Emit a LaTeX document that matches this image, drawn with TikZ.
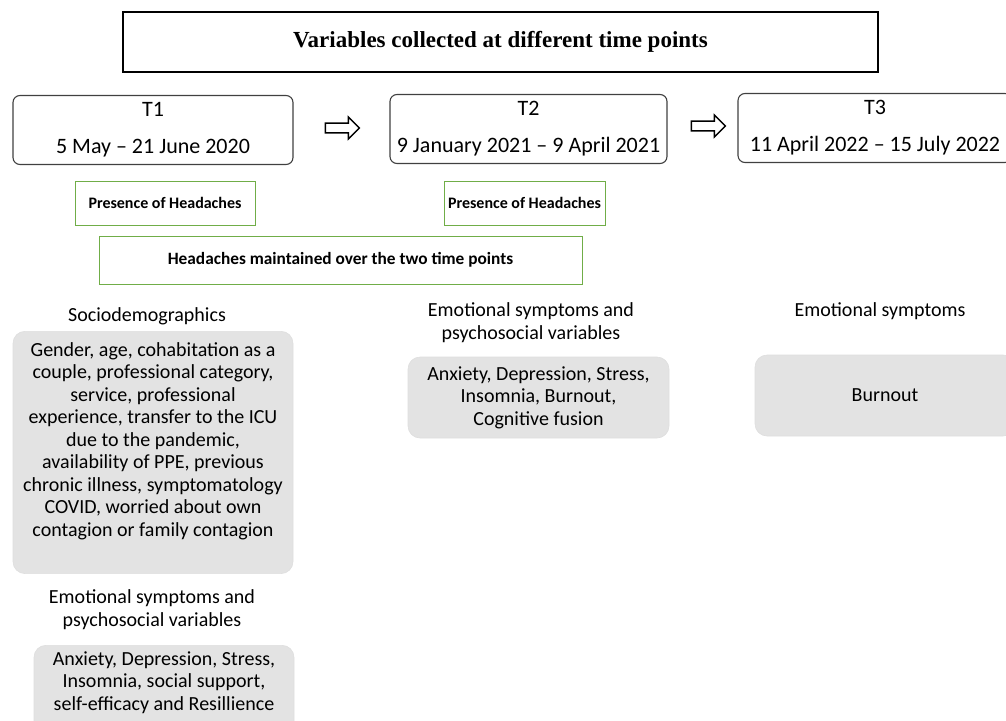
\documentclass[tikz,border=0pt]{standalone}
\usepackage{fontspec}
\setmainfont{Carlito}
\newfontfamily\titlefont{Liberation Serif}
\usepackage{tikz}
\usetikzlibrary{shapes.arrows,positioning}
\definecolor{hgreen}{RGB}{112,173,71}
\definecolor{tgray}{RGB}{64,64,64}
\tikzset{
  titlebox/.style={draw=black, line width=2pt, minimum width=755pt, minimum height=60pt,
    font=\titlefont\bfseries\fontsize{23}{26}\selectfont},
  timebox/.style={draw=tgray, line width=1.1pt, rounded corners=7pt, align=center,
    minimum height=69pt, font=\fontsize{22}{37}\selectfont},
  headbox/.style={draw=hgreen, line width=0.9pt, minimum height=44pt,
    font=\bfseries\fontsize{16}{18}\selectfont},
  heading/.style={align=center, font=\fontsize{20}{23}\selectfont},
  varbox/.style={fill=black!11, draw=black!13, line width=0.6pt, rounded corners=12pt,
    align=center, font=\fontsize{20}{22.5}\selectfont},
  nextarrow/.style={single arrow, draw=black, line width=1.4pt, fill=white, inner sep=4pt,
    minimum height=34pt, minimum width=22pt, single arrow head extend=6pt}
}
\begin{document}
\begin{tikzpicture}[x=1pt,y=-1pt]
    \useasboundingbox (0,0) rectangle (1006,720);
    \clip (0,0) rectangle (1006,720);

    \node[titlebox] (title) at (500.5,42) {Variables collected at different time points};

    % the three time points
    \node[timebox, minimum width=280pt] (t1) at (153,130) {T1\\5 May -- 21 June 2020};
    \node[timebox, minimum width=277pt] (t2) at (528.5,129) {T2\\9 January 2021 -- 9 April 2021};
    \node[timebox, minimum width=274pt] (t3) at (875,128) {T3\\11 April 2022 -- 15 July 2022};
    \node[nextarrow] (a1) at (340,128) {};
    \node[nextarrow] (a2) at (706,126) {};

    % headaches
    \node[headbox, minimum width=180pt] (pres1) at (165,203) {Presence of Headaches};
    \node[headbox, minimum width=161pt] (pres2) at (524.5,203) {Presence of Headaches};
    \node[headbox, minimum width=483pt, minimum height=48pt, font=\bfseries\fontsize{17.3}{19}\selectfont]
      (maint) at (340.5,260) {Headaches maintained over the two time points};

    % T1 variables
    \node[heading] (socio) at (147,316) {Sociodemographics};
    \node[varbox, anchor=north, minimum width=280pt, inner ysep=11pt] (sociovars) at (153,331)
      {Gender, age, cohabitation as a\\ couple, professional category,\\ service, professional\\
       experience, transfer to the ICU\\ due to the pandemic,\\ availability of PPE, previous\\
       chronic illness, symptomatology\\ COVID, worried about own\\ contagion or family contagion\\
       \rule{0pt}{22pt}};
    \node[heading] (emo1) at (152,610) {Emotional symptoms and\\psychosocial variables};
    \node[varbox, anchor=north, minimum width=260pt, inner ysep=6pt] (emovars1) at (164,645)
      {Anxiety, Depression, Stress,\\ Insomnia, social support,\\ self-efficacy and Resillience\\
       \rule{0pt}{30pt}};

    % T2 variables
    \node[heading] (emo2) at (531,322.5) {Emotional symptoms and\\psychosocial variables};
    \node[varbox, minimum width=261pt, minimum height=81pt] (emovars2) at (538.5,397.5)
      {Anxiety, Depression, Stress,\\ Insomnia, Burnout,\\ Cognitive fusion};

    % T3 variables
    \node[heading] (emo3) at (880,311) {Emotional symptoms};
    \node[varbox, minimum width=260pt, minimum height=81pt] (emovars3) at (885,395.5) {Burnout};
\end{tikzpicture}
\end{document}
